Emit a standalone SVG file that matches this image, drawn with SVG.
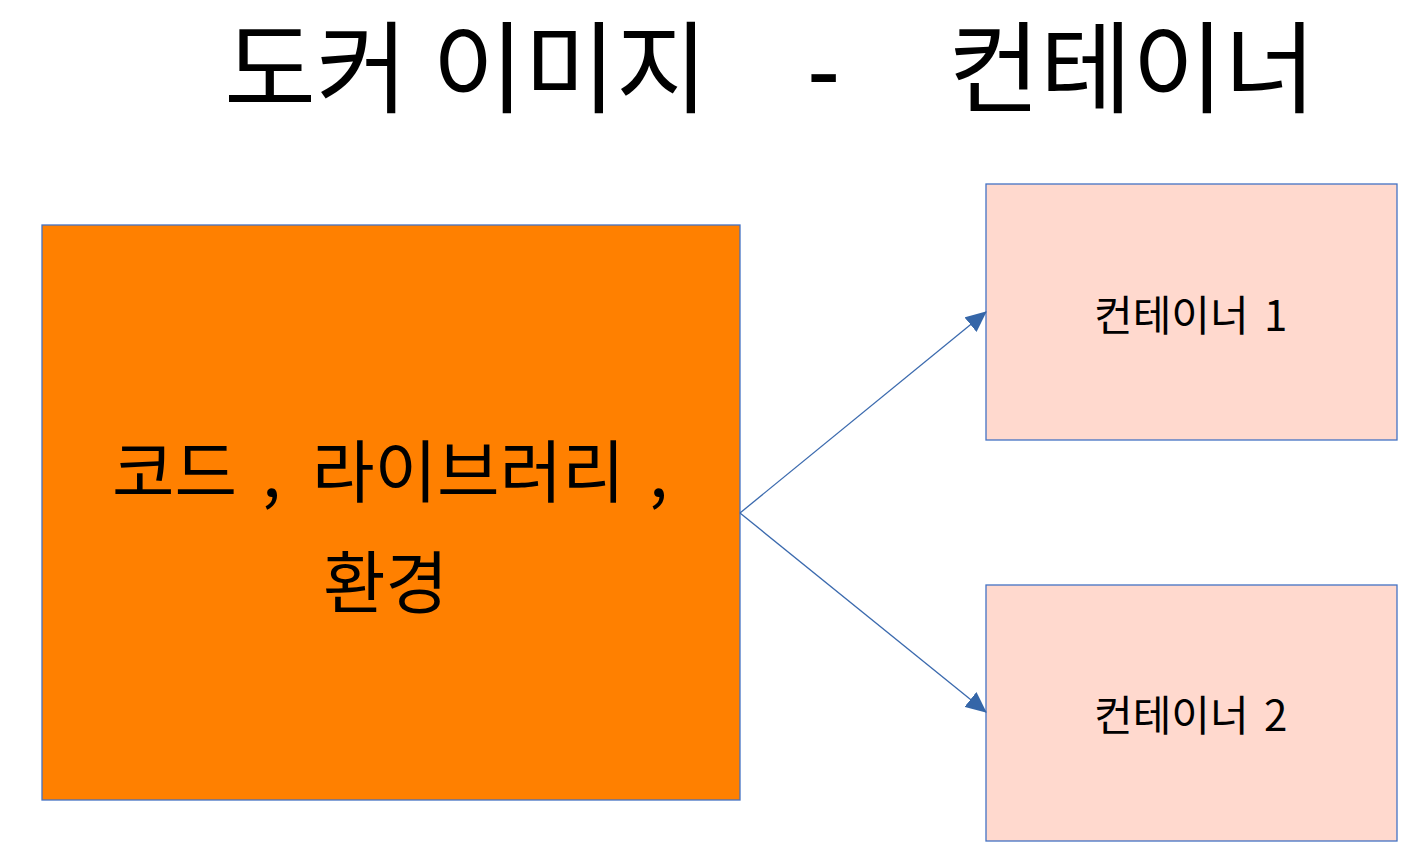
<svg xmlns="http://www.w3.org/2000/svg" width="1426" height="846" viewBox="0 0 1426 846">
<style>
text{font-family:"Noto Sans CJK KR","Liberation Sans",sans-serif;fill:#000}
.title{font-family:"Liberation Sans","Noto Sans CJK KR",sans-serif;font-size:100px}
.box{stroke:#4472C4;stroke-width:1.3}
.c{fill:#FFD9CE}
.conn{stroke:#3B6AAE;stroke-width:1.3;fill:none;marker-end:url(#ah)}
.lbl{font-size:42px}
.big{font-size:68px}
</style>
<defs>
<marker id="ah" viewBox="0 0 21 19" refX="20" refY="9.5" markerWidth="21" markerHeight="19" markerUnits="userSpaceOnUse" orient="auto">
<path d="M0,0 L21,9.5 L0,19 z" fill="#3566A8"/>
</marker>
</defs>
<rect width="1426" height="846" fill="#fff"/>
<text class="title" y="105"><tspan x="224">도커</tspan><tspan x="432">이미지</tspan><tspan x="807">-</tspan><tspan x="948">컨테이너</tspan></text>
<g id="image">
<rect class="box" x="42" y="225" width="698" height="575" fill="#FF8000"/>
<text class="big" y="497"><tspan x="112">코드</tspan><tspan x="262">,</tspan><tspan x="312">라이브러리</tspan><tspan x="649">,</tspan></text>
<text class="big" x="323" y="608">환경</text>
</g>
<g id="container1">
<rect class="box c" x="986" y="184" width="411" height="256"/>
<text class="lbl" y="331"><tspan x="1094">컨테이너</tspan><tspan x="1264">1</tspan></text>
</g>
<g id="container2">
<rect class="box c" x="986" y="585" width="411" height="256"/>
<text class="lbl" y="731"><tspan x="1094">컨테이너</tspan><tspan x="1264">2</tspan></text>
</g>
<g id="connectors">
<path class="conn" d="M740,513 L986,312"/>
<path class="conn" d="M740,513 L986,712"/>
</g>
</svg>
